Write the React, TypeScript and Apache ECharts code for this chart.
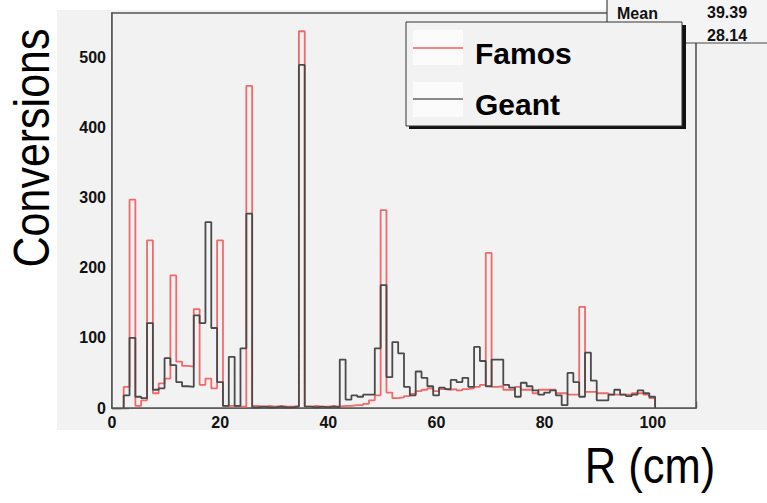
import React, { useEffect, useRef } from "react";
import * as echarts from "echarts";

// Photon conversion radius histograms: 100 bins of 1.08 cm on [0, 108]
const BIN_WIDTH = 1.08;
const X_MAX = 108;
const Y_MAX = 563;

const famos = [
  0, 0, 30, 297, 3, 11, 239, 21, 35, 42,
  189, 66, 60, 59, 141, 33, 42, 28, 239, 3,
  3, 2, 2, 459, 3, 2, 3, 2, 3, 2,
  2, 3, 537, 2, 3, 2, 2, 3, 2, 3,
  3, 4, 4, 6, 11, 18, 282, 22, 14, 15,
  17, 20, 24, 26, 28, 24, 27, 26, 27, 25,
  27, 28, 30, 33, 221, 30, 31, 26, 26, 30,
  26, 26, 21, 26, 26, 26, 21, 21, 19, 19,
  144, 23, 23, 21, 21, 19, 19, 19, 19, 21,
  21, 19, 14, 0, 0, 0, 0, 0, 0, 0,
];

const geant = [
  0, 0, 18, 100, 16, 14, 121, 26, 28, 71,
  61, 37, 31, 30, 132, 121, 265, 114, 37, 3,
  73, 3, 85, 277, 1, 2, 1, 1, 2, 1,
  1, 2, 489, 2, 1, 2, 1, 2, 1, 69,
  12, 18, 16, 19, 19, 85, 175, 44, 94, 78,
  30, 18, 52, 43, 31, 18, 29, 27, 40, 37,
  43, 30, 87, 67, 31, 69, 69, 33, 29, 16,
  36, 31, 25, 19, 22, 25, 18, 4, 50, 37,
  16, 79, 39, 11, 11, 19, 26, 19, 17, 19,
  25, 21, 16, 0, 0, 0, 0, 0, 0, 0,
];

const xTickLabels = ["0", "20", "40", "60", "80", "100"];
const yTickLabels = ["0", "100", "200", "300", "400", "500"];
const statsLabels = ["Mean", "39.39", "28.14"];
const seriesNames = ["Famos", "Geant"];

const RED = "#f06a6a";
const DARK = "#4a4a4a";
const PAD = "#f2f2f2";
const FONT = '"Liberation Sans", Arial, sans-serif';

// Outline of a histogram as step points: up from 0 at the first filled bin,
// across every bin, back down to 0 after the last filled bin.
function outline(values: number[]): number[][] {
  let first = values.findIndex((v) => v > 0);
  let last = values.length - 1;
  while (last > 0 && values[last] === 0) last--;
  if (first < 0) first = 0;
  const pts: number[][] = [[first * BIN_WIDTH, 0]];
  for (let i = first; i <= last; i++) pts.push([i * BIN_WIDTH, values[i]]);
  pts.push([(last + 1) * BIN_WIDTH, 0]);
  return pts;
}

export default function App() {
  const ref = useRef<HTMLDivElement>(null);

  useEffect(() => {
    document.body.style.margin = "0";
    if (!ref.current) return;
    const chart = echarts.init(ref.current, undefined, { renderer: "svg" });

    const tickLabel = {
      fontFamily: FONT,
      fontWeight: "bold" as const,
      fontSize: 16,
      color: "#111",
    };

    chart.setOption({
      animation: false,
      grid: {
        left: 112,
        top: 13,
        width: 584,
        height: 395,
        show: true,
        backgroundColor: PAD,
        borderColor: "#555",
        borderWidth: 1.6,
        z: 1,
      },
      xAxis: [
        {
          type: "value",
          position: "bottom",
          min: 0,
          max: X_MAX,
          interval: 20,
          axisLine: { show: true, lineStyle: { color: "#555", width: 1.6 } },
          axisTick: { show: true, inside: true, length: 12, lineStyle: { color: "#555", width: 1.4 } },
          axisLabel: {
            ...tickLabel,
            margin: 6,
            showMaxLabel: false,
            formatter: (v: number) => {
              const idx = v / 20;
              return Number.isInteger(idx) && xTickLabels[idx] ? xTickLabels[idx] : "";
            },
          },
          splitLine: { show: false },
        },
        {
          type: "value",
          position: "bottom",
          min: 0,
          max: X_MAX,
          interval: 5,
          axisLine: { show: false },
          axisTick: { show: true, inside: true, length: 6.5, lineStyle: { color: "#555", width: 1.4 } },
          axisLabel: { show: false },
          splitLine: { show: false },
        },
      ],
      yAxis: [
        {
          type: "value",
          position: "left",
          min: 0,
          max: Y_MAX,
          interval: 100,
          axisLine: { show: true, lineStyle: { color: "#555", width: 1.6 } },
          axisTick: { show: true, inside: true, length: 17, lineStyle: { color: "#555", width: 1.4 } },
          axisLabel: {
            ...tickLabel,
            margin: 6,
            showMaxLabel: false,
            formatter: (v: number) => {
              const idx = v / 100;
              return Number.isInteger(idx) && yTickLabels[idx] ? yTickLabels[idx] : "";
            },
          },
          splitLine: { show: false },
        },
        {
          type: "value",
          position: "left",
          min: 0,
          max: Y_MAX,
          interval: 20,
          axisLine: { show: false },
          axisTick: { show: true, inside: true, length: 9, lineStyle: { color: "#555", width: 1.4 } },
          axisLabel: { show: false },
          splitLine: { show: false },
        },
      ],
      series: [
        {
          name: seriesNames[0],
          type: "line",
          step: "end",
          symbol: "none",
          data: outline(famos),
          lineStyle: { color: RED, width: 1.8 },
          z: 3,
        },
        {
          name: seriesNames[1],
          type: "line",
          step: "end",
          symbol: "none",
          data: outline(geant),
          lineStyle: { color: DARK, width: 1.8 },
          z: 4,
        },
      ],
      graphic: [
        // pad background
        { type: "rect", z: -10, shape: { x: 57, y: 10, width: 710, height: 420 }, style: { fill: PAD } },
        // statistics box, mostly hidden behind the legend
        {
          type: "rect",
          z: 50,
          shape: { x: 607, y: -10, width: 170, height: 53 },
          style: { fill: "#f4f4f4", stroke: "#444", lineWidth: 1.2 },
        },
        {
          type: "text",
          z: 51,
          x: 617,
          y: 13,
          style: { text: statsLabels[0], font: `bold 16px ${FONT}`, fill: "#111", align: "left", verticalAlign: "middle" },
        },
        {
          type: "text",
          z: 51,
          x: 707,
          y: 12,
          style: { text: statsLabels[1], font: `bold 16px ${FONT}`, fill: "#111", align: "left", verticalAlign: "middle" },
        },
        {
          type: "text",
          z: 51,
          x: 707,
          y: 35,
          style: { text: statsLabels[2], font: `bold 16px ${FONT}`, fill: "#111", align: "left", verticalAlign: "middle" },
        },
        // legend with drop shadow
        { type: "rect", z: 60, shape: { x: 409, y: 25, width: 277, height: 104 }, style: { fill: "#111" } },
        {
          type: "rect",
          z: 61,
          shape: { x: 406, y: 22, width: 276, height: 104 },
          style: { fill: PAD, stroke: "#333", lineWidth: 1 },
        },
        { type: "rect", z: 62, shape: { x: 413, y: 30, width: 50, height: 35 }, style: { fill: "#fbfbfb" } },
        { type: "rect", z: 62, shape: { x: 413, y: 82, width: 50, height: 35 }, style: { fill: "#fbfbfb" } },
        { type: "line", z: 63, shape: { x1: 413, y1: 48, x2: 463, y2: 48 }, style: { stroke: "#ff8080", lineWidth: 2 } },
        { type: "line", z: 63, shape: { x1: 413, y1: 99, x2: 463, y2: 99 }, style: { stroke: "#888", lineWidth: 2 } },
        {
          type: "text",
          z: 63,
          x: 475,
          y: 53,
          style: { text: seriesNames[0], font: `bold 30px ${FONT}`, fill: "#000", align: "left", verticalAlign: "middle" },
        },
        {
          type: "text",
          z: 63,
          x: 475,
          y: 104,
          style: { text: seriesNames[1], font: `bold 30px ${FONT}`, fill: "#000", align: "left", verticalAlign: "middle" },
        },
        // axis titles
        {
          type: "text",
          z: 70,
          x: 32,
          y: 148,
          rotation: Math.PI / 2,
          scaleX: 0.86,
          style: { text: "Conversions", font: `50px ${FONT}`, fill: "#000", align: "center", verticalAlign: "middle" },
        },
        {
          type: "text",
          z: 70,
          x: 650,
          y: 466,
          scaleX: 0.87,
          style: { text: "R (cm)", font: `50px ${FONT}`, fill: "#000", align: "center", verticalAlign: "middle" },
        },
      ],
    });

    return () => chart.dispose();
  }, []);

  return <div ref={ref} style={{ width: 767, height: 503 }} />;
}
